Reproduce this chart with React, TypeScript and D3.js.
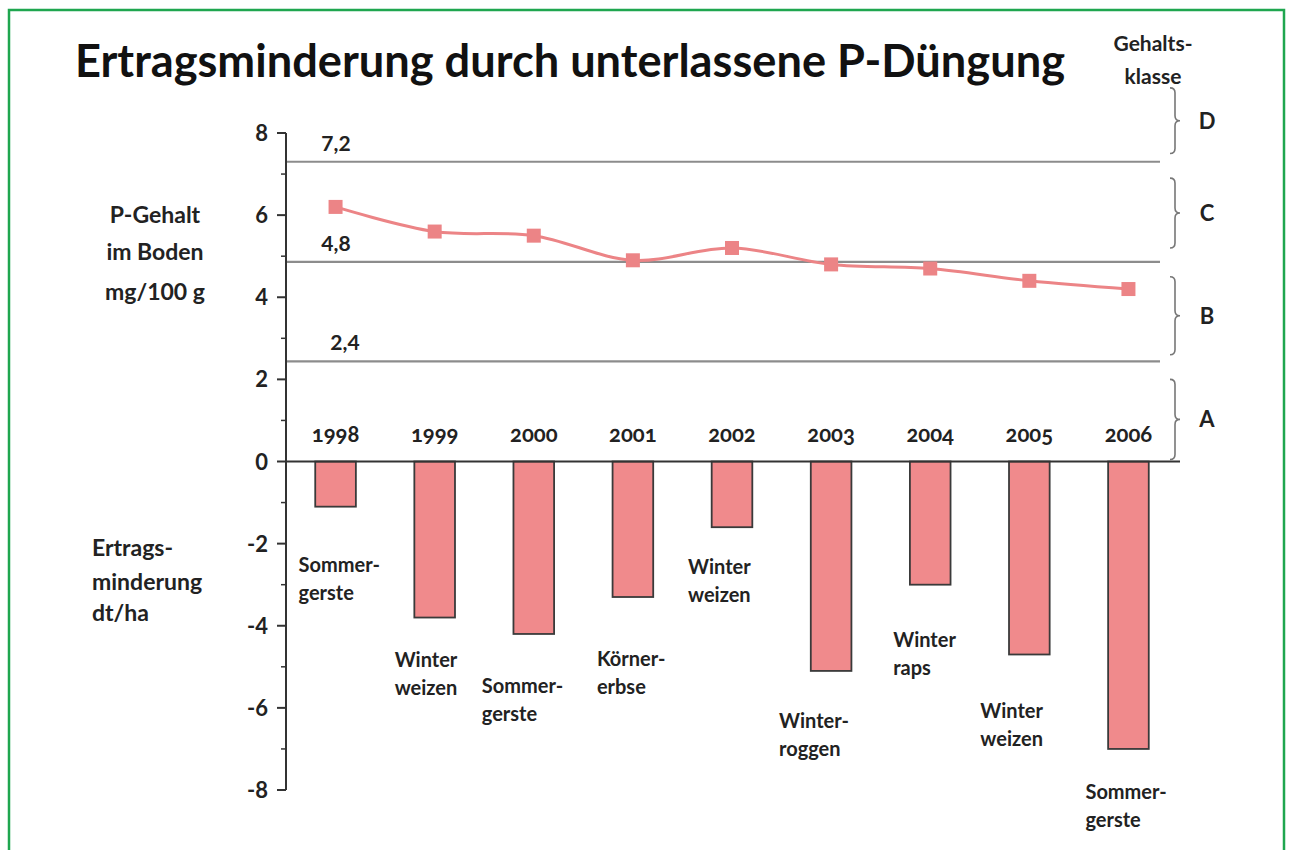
import React from "react";
import * as d3 from "d3";

// data
const years = ["1998", "1999", "2000", "2001", "2002", "2003", "2004", "2005", "2006"];
const crops = [
    ["Sommer-", "gerste"],
    ["Winter", "weizen"],
    ["Sommer-", "gerste"],
    ["Körner-", "erbse"],
    ["Winter", "weizen"],
    ["Winter-", "roggen"],
    ["Winter", "raps"],
    ["Winter", "weizen"],
    ["Sommer-", "gerste"],
];
const yieldLoss = [-1.1, -3.8, -4.2, -3.3, -1.6, -5.1, -3.0, -4.7, -7.0];
const pContent = [6.2, 5.6, 5.5, 4.9, 5.2, 4.8, 4.7, 4.4, 4.2];
const classBounds = [7.3, 4.86, 2.44];
const classBoundLabels = ["7,2", "4,8", "2,4"];
const classNames = ["D", "C", "B", "A"];
const yTicks = [8, 6, 4, 2, 0, -2, -4, -6, -8];

// layout only (brace extents in axis units, label nudges in px)
const braceRanges: [number, number][] = [[9.1, 7.5], [6.9, 5.2], [4.5, 2.6], [2.0, 0.05]];
const labelNudge: [number, number][] = [
    [-37, 58], [-40, 42], [-52, 52], [-36, 62], [-44, 40], [-52, 50], [-37, 55], [-49, 57], [-43, 43],
];

const W = 1289;
const H = 850;
const FONT = "Lato, 'Open Sans', sans-serif";
const BAR = "#f08a8c";
const LINE = "#ec8486";

export default function App() {
    const y = d3.scaleLinear().domain([-8, 8]).range([790, 133]);
    const x = d3
        .scaleBand<string>()
        .domain(years)
        .range([286, 1178])
        .paddingInner(0.59)
        .paddingOuter(0.295);
    const cx = (yr: string) => (x(yr) as number) + x.bandwidth() / 2;

    const line = d3
        .line<number>()
        .x((_, i) => cx(years[i]))
        .y((d) => y(d))
        .curve(d3.curveCatmullRom.alpha(0.5));

    const brace = (top: number, bottom: number, bx: number) => {
        const mid = (top + bottom) / 2;
        const w = 5;
        return `M${bx},${top} q${w},0 ${w},${w} L${bx + w},${mid - w} q0,${w} ${w},${w} q-${w},0 -${w},${w} L${bx + w},${bottom - w} q0,${w} -${w},${w}`;
    };

    const minorTicks = d3.range(-7, 8, 2);

    return (
        <svg
            width={W}
            height={H}
            style={{ position: "absolute", left: 0, top: 0, background: "#fff" }}
            fontFamily={FONT}
        >
            <rect x={9} y={10} width={W - 14} height={H + 10} fill="#fff" stroke="#1fa64f" strokeWidth={2.5} />

            <text
                x={75}
                y={77}
                fontSize={46}
                fontWeight={700}
                fill="#111"
                textLength={990}
                lengthAdjust="spacingAndGlyphs"
            >
                Ertragsminderung durch unterlassene P-Düngung
            </text>

            <text x={1153} y={51} fontSize={21} fontWeight={700} textAnchor="middle" fill="#222">Gehalts-</text>
            <text x={1153} y={84} fontSize={21} fontWeight={700} textAnchor="middle" fill="#222">klasse</text>

            {/* left axis titles */}
            <g fontSize={23} fontWeight={700} fill="#222" textAnchor="middle">
                <text x={155} y={223}>P-Gehalt</text>
                <text x={155} y={260}>im Boden</text>
                <text x={155} y={300}>mg/100 g</text>
            </g>
            <g fontSize={23} fontWeight={700} fill="#222">
                <text x={92} y={556}>Ertrags-</text>
                <text x={92} y={590}>minderung</text>
                <text x={92} y={621}>dt/ha</text>
            </g>

            {/* class boundary lines */}
            {classBounds.map((v, i) => (
                <g key={v}>
                    <line x1={286} x2={1160} y1={y(v)} y2={y(v)} stroke="#8c8c8c" strokeWidth={2.2} />
                    <text
                        x={i === 2 ? 345 : 336}
                        y={y(v) - 11}
                        fontSize={21}
                        fontWeight={700}
                        textAnchor="middle"
                        fill="#222"
                    >
                        {classBoundLabels[i]}
                    </text>
                </g>
            ))}

            {/* braces + class letters */}
            {classNames.map((c, i) => {
                const [a, b] = braceRanges[i];
                const top = y(a);
                const bottom = y(b);
                return (
                    <g key={c}>
                        <path d={brace(top, bottom, 1170)} fill="none" stroke="#777" strokeWidth={1.6} />
                        <text x={1207} y={(top + bottom) / 2 + 8} fontSize={22} fontWeight={700} textAnchor="middle" fill="#222">
                            {c}
                        </text>
                    </g>
                );
            })}

            {/* bars */}
            {yieldLoss.map((v, i) => (
                <rect
                    key={years[i]}
                    x={x(years[i])}
                    y={y(0)}
                    width={x.bandwidth()}
                    height={y(v) - y(0)}
                    fill={BAR}
                    stroke="#3a3a3a"
                    strokeWidth={1.8}
                />
            ))}

            {/* zero line */}
            <line x1={286} x2={1180} y1={y(0)} y2={y(0)} stroke="#333" strokeWidth={2} />

            {/* y axis */}
            <line x1={286} x2={286} y1={y(8)} y2={y(-8)} stroke="#333" strokeWidth={2} />
            {yTicks.map((t) => (
                <g key={t}>
                    <line x1={277} x2={286} y1={y(t)} y2={y(t)} stroke="#333" strokeWidth={2} />
                    <text x={268} y={y(t) + 8} fontSize={22} fontWeight={700} textAnchor="end" fill="#222">
                        {t}
                    </text>
                </g>
            ))}
            {minorTicks.map((t) => (
                <line key={t} x1={281} x2={286} y1={y(t)} y2={y(t)} stroke="#333" strokeWidth={1.5} />
            ))}

            {/* year labels */}
            {years.map((yr) => (
                <text
                    key={yr}
                    x={cx(yr)}
                    y={442}
                    fontSize={22}
                    fontWeight={700}
                    textAnchor="middle"
                    fill="#222"
                    style={{ fontVariantNumeric: "oldstyle-nums" }}
                >
                    {yr}
                </text>
            ))}

            {/* crop labels */}
            {crops.map((c, i) => {
                const [dx, dy] = labelNudge[i];
                const bx = cx(years[i]) + dx;
                const by = y(yieldLoss[i]) + dy;
                return (
                    <g key={i} fontSize={20} fontWeight={700} fill="#222">
                        <text x={bx} y={by + 7}>{c[0]}</text>
                        <text x={bx} y={by + 35}>{c[1]}</text>
                    </g>
                );
            })}

            {/* P content line */}
            <path d={line(pContent) || ""} fill="none" stroke={LINE} strokeWidth={3} />
            {pContent.map((v, i) => (
                <rect key={i} x={cx(years[i]) - 7} y={y(v) - 7} width={14} height={14} fill={LINE} />
            ))}
        </svg>
    );
}
